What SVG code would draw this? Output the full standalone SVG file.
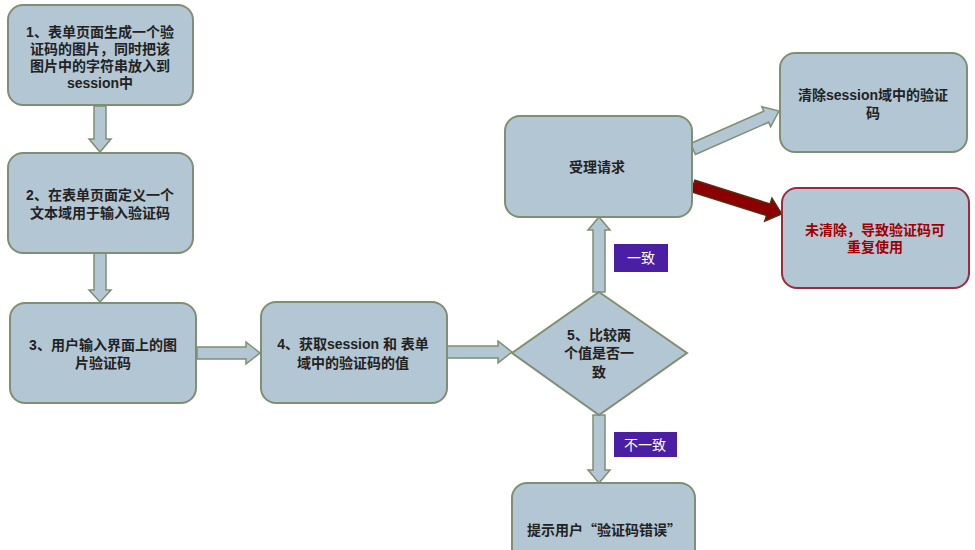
<svg xmlns="http://www.w3.org/2000/svg" width="975" height="550" viewBox="0 0 975 550">
<style>
.box{fill:#b3c6d4;stroke:#7f8f72;stroke-width:2}
.red{fill:#b3c6d4;stroke:#9c2a3a;stroke-width:2}
.t{font-family:"Liberation Sans","Noto Sans CJK SC",sans-serif;font-size:14px;font-weight:bold;fill:#222222;text-anchor:middle}
.cjk{font-family:"Noto Sans CJK SC",sans-serif}
.tr{fill:#a00000}
.arr{fill:#b3c6d4;stroke:#7f8f72;stroke-width:1.5}
.rarr{fill:#8b0000;stroke:#5a2a10;stroke-width:1.5}
.lab{fill:#4b1fa3}
.lt{font-family:"Liberation Sans","Noto Sans CJK SC",sans-serif;font-size:14px;fill:#ffffff;text-anchor:middle}
</style>
<rect width="975" height="550" fill="#ffffff"/>
<g id="connectors">
<path class="arr" transform="translate(100,106) rotate(90)" d="M0,-6 H33 V-11 L46,0 L33,11 V6 H0 Z"/>
<path class="arr" transform="translate(100,253) rotate(90)" d="M0,-6 H37 V-11 L49,0 L37,11 V6 H0 Z"/>
<path class="arr" transform="translate(197,353)" d="M0,-6 H49 V-11 L63,0 L49,11 V6 H0 Z"/>
<path class="arr" transform="translate(447,352)" d="M0,-6 H51 V-11 L65,0 L51,11 V6 H0 Z"/>
<path class="arr" transform="translate(599,292) rotate(-90)" d="M0,-6 H62 V-11 L75,0 L62,11 V6 H0 Z"/>
<path class="arr" transform="translate(599,415) rotate(90)" d="M0,-6 H55 V-11 L68,0 L55,11 V6 H0 Z"/>
<path class="arr" transform="translate(693,149) rotate(-23.8)" d="M0,-6 H80 V-11 L94,0 L80,11 V6 H0 Z"/>
<path class="rarr" transform="translate(693,186) rotate(17.5)" d="M0,-6 H79 V-12 L93,0 L79,12 V6 H0 Z"/>
</g>
<g id="n1"><rect class="box" x="8" y="5" width="185" height="100" rx="15"/>
<text class="t" x="100" y="37">1、表单页面生成一个验</text>
<text class="t" x="100" y="54">证码的图片，同时把该</text>
<text class="t" x="100" y="71">图片中的字符串放入到</text>
<text class="t" x="100" y="88">session中</text></g>
<g id="n2"><rect class="box" x="8" y="153" width="185" height="100" rx="15"/>
<text class="t" x="100" y="200">2、在表单页面定义一个</text>
<text class="t" x="100" y="218">文本域用于输入验证码</text></g>
<g id="n3"><rect class="box" x="10" y="303" width="186" height="100" rx="15"/>
<text class="t" x="103" y="350">3、用户输入界面上的图</text>
<text class="t" x="103" y="368">片验证码</text></g>
<g id="n4"><rect class="box" x="261" y="302" width="186" height="101" rx="15"/>
<text class="t" x="353" y="349">4、获取session 和 表单</text>
<text class="t" x="353" y="368">域中的验证码的值</text></g>
<g id="n5"><polygon class="box" points="599,292 687,353 599,415 512,353"/>
<text class="t" x="599" y="340">5、比较两</text>
<text class="t" x="599" y="358">个值是否一</text>
<text class="t" x="599" y="377">致</text></g>
<g id="n6"><rect class="box" x="505" y="116" width="187" height="101" rx="15"/>
<text class="t" x="597" y="172">受理请求</text></g>
<g id="n7"><rect class="box" x="780" y="53" width="187" height="99" rx="15"/>
<text class="t" x="873" y="100">清除session域中的验证</text>
<text class="t" x="873" y="118">码</text></g>
<g id="n8"><rect class="red" x="782" y="188" width="187" height="100" rx="15"/>
<text class="t tr" x="875" y="235">未清除，导致验证码可</text>
<text class="t tr" x="875" y="252">重复使用</text></g>
<g id="n9"><rect class="box" x="512" y="483" width="183" height="110" rx="15"/>
<text class="t cjk" x="604" y="535">提示用户“验证码错误”</text></g>
<g id="l1"><rect class="lab" x="614" y="244" width="54" height="28"/>
<text class="lt" x="641" y="263">一致</text></g>
<g id="l2"><rect class="lab" x="614" y="432" width="63" height="25"/>
<text class="lt" x="645" y="450">不一致</text></g>
</svg>
